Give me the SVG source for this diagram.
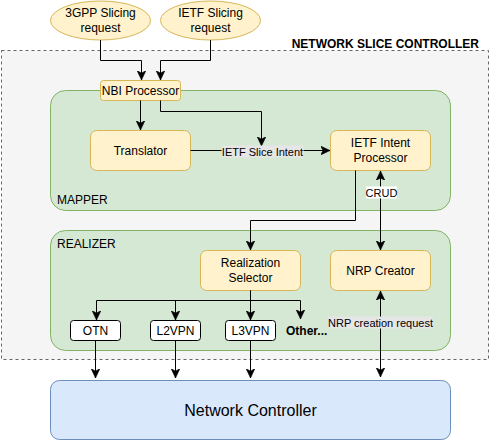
<svg xmlns="http://www.w3.org/2000/svg" width="491" height="441" viewBox="0 0 491 441">
<style>
text{font-family:"Liberation Sans",Arial,sans-serif;fill:#000;}
.c{text-anchor:middle;font-size:12px;}
.s{text-anchor:middle;font-size:11px;}
.y{fill:#fff2cc;stroke:#d6b656;stroke-width:1;}
.g{fill:#d5e8d4;stroke:#82b366;stroke-width:1;}
.w{fill:#ffffff;stroke:#000;stroke-width:1;}
.e{fill:none;stroke:#000;stroke-width:1;}
</style>
<defs>
<marker id="a" markerUnits="userSpaceOnUse" markerWidth="10" markerHeight="10" viewBox="0 0 8 8" refX="7.5" refY="3.5" orient="auto-start-reverse">
<path d="M0,0 L7.5,3.5 L0,7 L2,3.5 Z" fill="#000" stroke="#000" stroke-width="0.5"/>
</marker>
</defs>
<g id="nsc">
<rect x="1.5" y="50.5" width="487" height="309" fill="#f5f5f5" stroke="#666" stroke-dasharray="3 3"/>
<text x="479" y="48" style="font-size:12px;font-weight:bold;text-anchor:end">NETWORK SLICE CONTROLLER</text>
</g>
<g id="mapper">
<rect x="50.5" y="90.5" width="400" height="120" rx="15" class="g"/>
<text x="57" y="204" style="font-size:12px">MAPPER</text>
</g>
<g id="realizer">
<rect x="50.5" y="230.5" width="400" height="120" rx="15" class="g"/>
<text x="57" y="247.5" style="font-size:12px">REALIZER</text>
</g>
<g id="req3gpp">
<ellipse cx="100.5" cy="20.5" rx="50" ry="19.5" class="y"/>
<text x="100.5" y="17" class="c">3GPP Slicing</text>
<text x="100.5" y="31.5" class="c">request</text>
</g>
<g id="reqietf">
<ellipse cx="210.5" cy="20.5" rx="50" ry="19.5" class="y"/>
<text x="210.5" y="17" class="c">IETF Slicing</text>
<text x="210.5" y="31.5" class="c">request</text>
</g>
<g id="nbi">
<rect x="100.5" y="80.5" width="80" height="20" rx="3" class="y"/>
<text x="140.5" y="94.5" class="c">NBI Processor</text>
</g>
<g id="translator">
<rect x="90.5" y="130.5" width="100" height="40" rx="6" class="y"/>
<text x="140.5" y="154.5" class="c">Translator</text>
</g>
<g id="intent">
<rect x="330.5" y="130.5" width="100" height="40" rx="6" class="y"/>
<text x="380.5" y="147" class="c">IETF Intent</text>
<text x="380.5" y="161.5" class="c">Processor</text>
</g>
<g id="selector">
<rect x="200.5" y="250.5" width="100" height="40" rx="6" class="y"/>
<text x="250.5" y="267" class="c">Realization</text>
<text x="250.5" y="281.5" class="c">Selector</text>
</g>
<g id="nrp">
<rect x="330.5" y="250.5" width="100" height="40" rx="6" class="y"/>
<text x="380.5" y="274.5" class="c">NRP Creator</text>
</g>
<g id="otn">
<rect x="70.5" y="320.5" width="50" height="20" rx="3" class="w"/>
<text x="95.5" y="334.5" class="c">OTN</text>
</g>
<g id="l2vpn">
<rect x="150.5" y="320.5" width="50" height="20" rx="3" class="w"/>
<text x="175.5" y="334.5" class="c">L2VPN</text>
</g>
<g id="l3vpn">
<rect x="225.5" y="320.5" width="50" height="20" rx="3" class="w"/>
<text x="250.5" y="334.5" class="c">L3VPN</text>
</g>
<g id="other">
<text x="286" y="334.5" style="font-size:12px;font-weight:bold">Other...</text>
</g>
<g id="nc">
<rect x="50.5" y="380.5" width="400" height="59" rx="9" fill="#dae8fc" stroke="#6c8ebf"/>
<text x="250.5" y="416" style="font-size:16px;text-anchor:middle">Network Controller</text>
</g>
<g id="connectors">
<path d="M100.5,40 V60.5 H141.5 V80" class="e" marker-end="url(#a)"/>
<path d="M210.5,40 V60.5 H160.5 V80" class="e" marker-end="url(#a)"/>
<path d="M140.5,100.5 V130" class="e" marker-end="url(#a)"/>
<path d="M160.5,100.5 V111.5 H261.5 V146" class="e" marker-end="url(#a)"/>
<path d="M190.5,150.5 H330" class="e" marker-end="url(#a)"/>
<rect x="221.5" y="145.5" width="82" height="12" fill="#e6e6e6"/>
<text x="262.5" y="155.5" class="s">IETF Slice Intent</text>
<path d="M380.5,171 V250" class="e" marker-start="url(#a)" marker-end="url(#a)"/>
<rect x="366" y="186.5" width="31" height="12" fill="#ffffff"/>
<text x="381.5" y="196.5" class="s">CRUD</text>
<path d="M355.5,170.5 V220.5 H250.5 V250" class="e" marker-end="url(#a)"/>
<path d="M250.5,290.5 V300.5 H96.5 V320" class="e" marker-end="url(#a)"/>
<path d="M250.5,300.5 H175.5 V320" class="e" marker-end="url(#a)"/>
<path d="M250.5,290.5 V320" class="e" marker-end="url(#a)"/>
<path d="M250.5,300.5 H300.5 V319" class="e" marker-end="url(#a)"/>
<path d="M95.5,340.5 V378" class="e" marker-end="url(#a)"/>
<path d="M175.5,340.5 V378" class="e" marker-end="url(#a)"/>
<path d="M250.5,340.5 V378" class="e" marker-end="url(#a)"/>
<path d="M380.5,291 V377" class="e" marker-start="url(#a)" marker-end="url(#a)"/>
<rect x="328" y="316.5" width="105" height="12" fill="#e6e6e6"/>
<text x="380.5" y="326.5" class="s">NRP creation request</text>
</g>
</svg>
